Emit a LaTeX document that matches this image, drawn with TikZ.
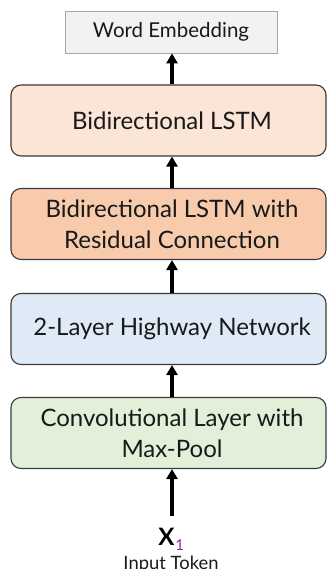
\documentclass[tikz,border=0pt]{standalone}
\usepackage{fontspec}
\setmainfont{Lato}
\usetikzlibrary{arrows.meta}
\definecolor{weFill}{HTML}{F2F2F2}
\definecolor{weLine}{HTML}{A6A6A6}
\definecolor{lstmFill}{HTML}{FBE5D6}
\definecolor{resFill}{HTML}{F8CBAD}
\definecolor{hwFill}{HTML}{DEEBF7}
\definecolor{convFill}{HTML}{E2F0D9}
\definecolor{boxLine}{HTML}{3A3A3A}
\definecolor{subPurple}{HTML}{8E2D8E}
\begin{document}
\begin{tikzpicture}[x=1pt,y=1pt,
  layerbox/.style={draw=boxLine, line width=1.1pt, rounded corners=10pt,
    minimum width=315pt, minimum height=71pt, inner sep=0pt},
  layertext/.style={font=\fontsize{24}{31}\selectfont, align=center, text=black!90},
  flow/.style={line width=3.2pt, -{Triangle[width=11pt,length=10pt]}}]
  \useasboundingbox (0,0) rectangle (327,-569);
  \coordinate (ax) at (172,0);

  % output embedding
  \node[draw=weLine, fill=weFill, line width=0.8pt, minimum width=212pt,
        minimum height=42pt, inner sep=0pt,
        font=\fontsize{20.5}{23}\selectfont, text=black!90]
        (we) at (171,-32) {Word Embedding};

  % stacked layers
  \node[layerbox, fill=lstmFill] (lstm) at (168.5,-120.5) {};
  \node[layerbox, fill=resFill]  (res)  at (168.5,-224) {};
  \node[layerbox, fill=hwFill]   (hw)   at (168.5,-329) {};
  \node[layerbox, fill=convFill] (conv) at (168.5,-433) {};

  \node[layertext] (lstmT) at (lstm.center -| ax) {Bidirectional LSTM};
  \node[layertext] (resT)  at (res.center -| ax)  {Bidirectional LSTM with\\Residual Connection};
  \node[layertext] (hwT)   at (hw.center -| ax)   {2-Layer Highway Network};
  \node[layertext] (convT) at (conv.center -| ax) {Convolutional Layer with\\Max-Pool};

  % input token
  \node[inner sep=0pt, anchor=base, font=\fontsize{24}{26}\selectfont\bfseries] (x1) at (166.5,-545) {X};
  \node[inner sep=0pt, anchor=base west, text=subPurple, font=\fontsize{15}{16}\selectfont]
        (x1sub) at ([xshift=0.5pt,yshift=-5.5pt]x1.base east) {1};
  \node[inner sep=0pt, anchor=base, font=\fontsize{18.4}{20}\selectfont, text=black!90]
        (inp) at (171,-569) {Input Token};
  \coordinate (xin) at (172,-516);

  % data flow
  \draw[flow] (xin) -- (conv.south -| ax);
  \draw[flow] (conv.north -| ax) -- (hw.south -| ax);
  \draw[flow] (hw.north -| ax) -- (res.south -| ax);
  \draw[flow] (res.north -| ax) -- (lstm.south -| ax);
  \draw[flow] (lstm.north -| ax) -- (we.south -| ax);
\end{tikzpicture}
\end{document}
